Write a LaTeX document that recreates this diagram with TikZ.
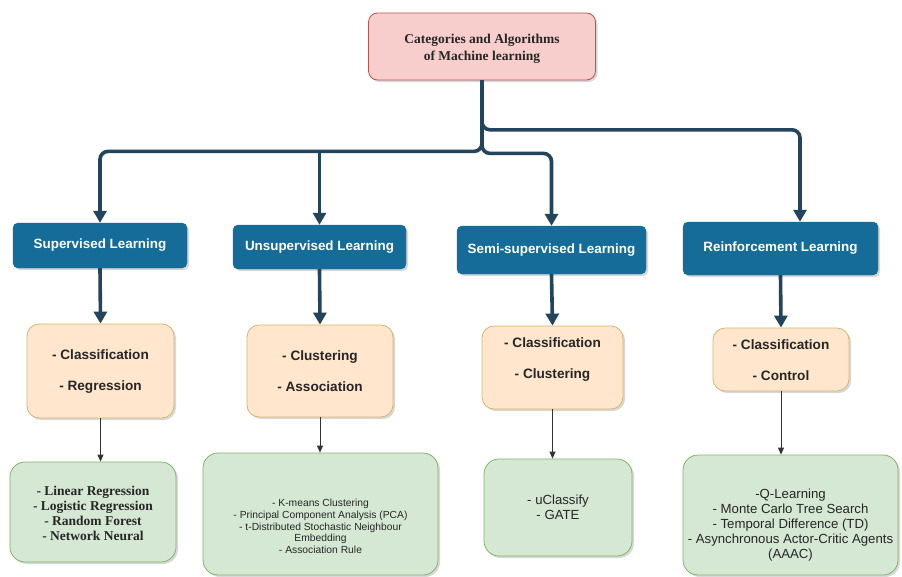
\documentclass[tikz,border=0pt]{standalone}
\usepackage{fontspec}
\setmainfont{Liberation Serif}
\setsansfont{Liberation Sans}
\usetikzlibrary{arrows.meta,shadows,calc}
\definecolor{catblue}{RGB}{22,108,152}
\definecolor{arrowc}{RGB}{35,68,93}
\definecolor{pinkfill}{RGB}{248,206,204}
\definecolor{pinkedge}{RGB}{184,84,80}
\definecolor{orfill}{RGB}{255,230,204}
\definecolor{oredge}{RGB}{214,182,110}
\definecolor{grfill}{RGB}{213,232,212}
\definecolor{gredge}{RGB}{130,179,102}
\begin{document}
\begin{tikzpicture}[x=1pt,y=-1pt,
  shad/.style={drop shadow={shadow xshift=2pt,shadow yshift=-2pt,opacity=0.3}},
  titlebox/.style={draw=pinkedge,fill=pinkfill,line width=0.8pt,rounded corners=9pt,shad,
    minimum width=227pt,minimum height=67pt},
  catbox/.style={draw=catblue,fill=catblue,rounded corners=5pt,shad,inner sep=0pt},
  subbox/.style={draw=oredge,fill=orfill,line width=0.8pt,rounded corners=12pt,shad,inner sep=0pt},
  algbox/.style={draw=gredge,fill=grfill,line width=0.8pt,rounded corners=15pt,shad,inner sep=0pt},
  titletxt/.style={align=center,font=\bfseries\fontsize{13.5}{17}\selectfont,text=black!85},
  cattxt/.style={align=center,text=white,font=\sffamily\bfseries\fontsize{13.4}{15}\selectfont},
  subtxt/.style={align=center,font=\sffamily\bfseries\fontsize{13.6}{31}\selectfont,text=black!85},
  algser/.style={align=center,font=\bfseries\fontsize{13.5}{15.2}\selectfont,text=black!85},
  algsans/.style={align=center,font=\sffamily\fontsize{13.2}{15}\selectfont,text=black!85},
  algsmall/.style={align=center,font=\sffamily\fontsize{10.3}{11.8}\selectfont,text=black!85},
  big/.style={draw=arrowc,line width=3.6pt,rounded corners=8pt,-{Triangle[width=13pt,length=12pt]}},
  thin/.style={draw=black!80,line width=1pt,-{Triangle[width=6pt,length=7pt]}}]
\useasboundingbox (0,0) rectangle (902,576);
\fill[white] (0,0) rectangle (902,576);
% top
\node[titlebox] (title) at (482,46.5) {};
\node[titletxt] (titlet) at (482,48.5) {Categories and Algorithms\\of Machine learning};
% categories
\node[catbox,minimum width=174pt,minimum height=45pt] (sup) at (100,245.5) {};
\node[catbox,minimum width=173pt,minimum height=44pt] (uns) at (319.5,247) {};
\node[catbox,minimum width=189pt,minimum height=48pt] (semi) at (551.5,250) {};
\node[catbox,minimum width=195pt,minimum height=53pt] (rein) at (780.5,248.5) {};
\node[cattxt] (supt) at (sup) {Supervised Learning};
\node[cattxt] (unst) at (uns) {Unsupervised Learning};
\node[cattxt] (semit) at (semi) {Semi-supervised Learning};
\node[cattxt] (reint) at (rein) {Reinforcement Learning};
% sub categories
\node[subbox,minimum width=147pt,minimum height=94pt] (o1) at (100.5,371) {};
\node[subbox,minimum width=146pt,minimum height=92pt] (o2) at (320,371) {};
\node[subbox,minimum width=141pt,minimum height=83pt] (o3) at (552.5,367.5) {};
\node[subbox,minimum width=136pt,minimum height=63pt] (o4) at (781,359.5) {};
\node[subtxt] (o1t) at (100.5,371.5) {- Classification\\- Regression};
\node[subtxt] (o2t) at (320,371.5) {- Clustering\\- Association};
\node[subtxt] (o3t) at (552.5,360) {- Classification\\- Clustering};
\node[subtxt] (o4t) at (781,360) {- Classification\\- Control};
% algorithms
\node[algbox,minimum width=166pt,minimum height=100pt] (g1) at (93,512) {};
\node[algbox,minimum width=235pt,minimum height=122pt] (g2) at (320.5,514) {};
\node[algbox,minimum width=148pt,minimum height=97pt] (g3) at (558,507.5) {};
\node[algbox,minimum width=215pt,minimum height=120pt] (g4) at (790.5,515) {};
\node[algser] (g1t) at (93,513.5) {- Linear Regression\\- Logistic Regression\\- Random Forest\\- Network Neural};
\node[algsmall] (g2t) at (320.5,526.5) {- K-means Clustering\\- Principal Component Analysis (PCA)\\- t-Distributed Stochastic Neighbour\\Embedding\\- Association Rule};
\node[algsans] (g3t) at (558,507.5) {- uClassify\\- GATE};
\node[algsans] (g4t) at (790.5,525) {-Q-Learning\\- Monte Carlo Tree Search\\- Temporal Difference (TD)\\- Asynchronous Actor-Critic Agents\\(AAAC)};
% top connectors
\draw[big] (title.south) |- ($(rein.north)+(19.5,-92)$) -- ($(rein.north)+(19.5,0)$);
\draw[big] (title.south) -- ++(0,71) -| (sup.north);
\draw[big] (title.south) -- ++(0,73) -| (semi.north);
\draw[big] ($(uns.north)+(0,-74)$) -- (uns.north);
% category to sub
\draw[big] (sup.south) -- (o1.north);
\draw[big] (uns.south) -- (o2.north);
\draw[big] (semi.south) -- (o3.north);
\draw[big] (rein.south) -- (o4.north);
% sub to algorithms
\draw[thin] (o1.south) -- (o1.south |- g1.north);
\draw[thin] (o2.south) -- (o2.south |- g2.north);
\draw[thin] (o3.south) -- (o3.south |- g3.north);
\draw[thin] (o4.south) -- (o4.south |- g4.north);
\end{tikzpicture}
\end{document}
